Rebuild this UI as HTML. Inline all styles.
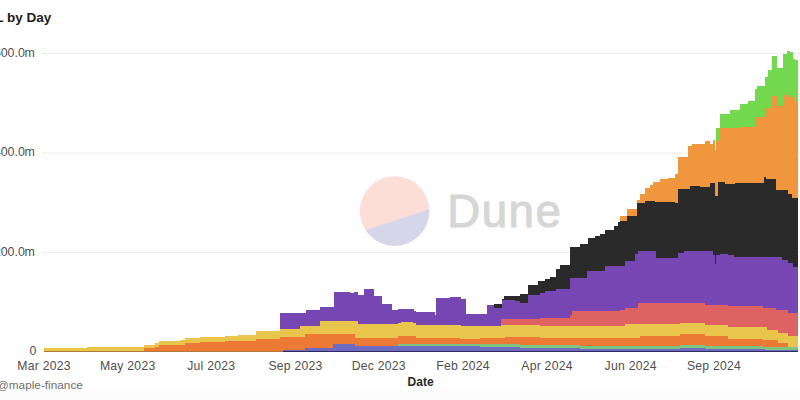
<!DOCTYPE html>
<html><head><meta charset="utf-8">
<style>
html,body{margin:0;padding:0;background:#fff;}
body{width:800px;height:400px;overflow:hidden;position:relative;font-family:"Liberation Sans",sans-serif;}
svg{position:absolute;left:0;top:0;font-family:"Liberation Sans",sans-serif;}
</style></head>
<body>
<svg width="800" height="400" viewBox="0 0 800 400">
<defs><filter id="bl" x="-1%" y="-1%" width="102%" height="102%"><feGaussianBlur stdDeviation="0.5"/></filter><linearGradient id="fg" x1="0" y1="0" x2="0" y2="1"><stop offset="0" stop-color="#fefefe"/><stop offset="1" stop-color="#f9f9f9"/></linearGradient></defs>
<rect x="0" y="387" width="800" height="13" fill="url(#fg)"/>
<g stroke="#ececec" stroke-width="1">
<line x1="42" y1="53.4" x2="800" y2="53.4"/>
<line x1="42" y1="153" x2="800" y2="153"/>
<line x1="42" y1="252.4" x2="800" y2="252.4"/>
</g>
<g shape-rendering="crispEdges" filter="url(#bl)">
<path d="M716.00,352.00L716.00,128.00L720.00,128.00L720.00,114.20L730.00,114.20L730.00,110.00L740.00,110.00L740.00,104.00L748.00,104.00L748.00,100.80L755.00,100.80L755.00,88.50L757.00,88.50L757.00,86.20L765.00,86.20L765.00,77.30L768.00,77.30L768.00,70.00L772.00,70.00L772.00,56.00L777.00,56.00L777.00,67.50L783.00,67.50L783.00,53.50L787.00,53.50L787.00,51.30L790.00,51.30L790.00,52.40L793.00,52.40L793.00,59.00L795.00,59.00L795.00,60.30L798.00,60.30L798.00,352.00Z" fill="#72d94f"/>
<path d="M620.00,352.00L620.00,215.50L627.00,215.50L627.00,208.50L637.00,208.50L637.00,199.80L640.00,199.80L640.00,193.60L645.00,193.60L645.00,188.40L650.00,188.40L650.00,184.90L653.00,184.90L653.00,182.30L660.00,182.30L660.00,178.80L668.00,178.80L668.00,177.90L675.00,177.90L675.00,173.50L678.00,173.50L678.00,156.70L688.00,156.70L688.00,146.20L692.00,146.20L692.00,143.60L705.00,143.60L705.00,141.00L710.00,141.00L710.00,143.60L713.00,143.60L713.00,139.60L715.00,139.60L715.00,150.00L716.00,150.00L716.00,141.00L720.00,141.00L720.00,128.00L740.00,128.00L740.00,127.00L755.00,127.00L755.00,117.00L765.00,117.00L765.00,108.00L772.00,108.00L772.00,96.30L777.00,96.30L777.00,106.40L784.00,106.40L784.00,95.20L790.00,95.20L790.00,97.40L795.00,97.40L795.00,101.50L798.00,101.50L798.00,352.00Z" fill="#f0963e"/>
<path d="M494.00,352.00L494.00,304.00L502.00,304.00L502.00,299.30L504.00,299.30L504.00,296.00L520.00,296.00L520.00,293.50L528.00,293.50L528.00,285.00L538.00,285.00L538.00,281.40L545.00,281.40L545.00,278.80L550.00,278.80L550.00,276.60L556.00,276.60L556.00,268.70L560.00,268.70L560.00,265.00L570.00,265.00L570.00,246.50L580.00,246.50L580.00,244.00L588.00,244.00L588.00,238.30L595.00,238.30L595.00,236.00L600.00,236.00L600.00,233.80L605.00,233.80L605.00,230.40L610.00,230.40L610.00,229.50L614.00,229.50L614.00,226.00L618.00,226.00L618.00,221.70L620.00,221.70L620.00,220.80L627.00,220.80L627.00,215.50L637.00,215.50L637.00,203.30L645.00,203.30L645.00,200.60L655.00,200.60L655.00,202.40L668.00,202.40L668.00,201.50L675.00,201.50L675.00,203.30L678.00,203.30L678.00,188.50L690.00,188.50L690.00,185.50L700.00,185.50L700.00,186.90L710.00,186.90L710.00,183.00L715.00,183.00L715.00,196.00L718.00,196.00L718.00,182.00L725.00,182.00L725.00,184.00L735.00,184.00L735.00,182.80L764.00,182.80L764.00,177.30L766.00,177.30L766.00,179.20L776.00,179.20L776.00,190.30L788.00,190.30L788.00,193.70L792.00,193.70L792.00,198.20L798.00,198.20L798.00,352.00Z" fill="#2b2b2b"/>
<path d="M280.00,352.00L280.00,313.00L306.00,313.00L306.00,310.40L320.00,310.40L320.00,306.60L334.00,306.60L334.00,292.10L350.00,292.10L350.00,292.90L354.00,292.90L354.00,292.10L357.50,292.10L357.50,295.00L364.40,295.00L364.40,289.20L373.80,289.20L373.80,296.00L382.00,296.00L382.00,304.40L392.00,304.40L392.00,310.00L397.50,310.00L397.50,308.80L414.40,308.80L414.40,310.50L416.00,310.50L416.00,311.50L434.80,311.50L434.80,315.00L436.00,315.00L436.00,297.60L449.50,297.60L449.50,297.40L461.00,297.40L461.00,299.00L466.00,299.00L466.00,313.90L487.00,313.90L487.00,305.30L494.00,305.30L494.00,307.70L502.00,307.70L502.00,300.00L515.00,300.00L515.00,301.20L520.00,301.20L520.00,302.70L528.00,302.70L528.00,294.50L540.00,294.50L540.00,293.40L545.00,293.40L545.00,291.20L556.00,291.20L556.00,289.00L570.00,289.00L570.00,278.00L587.00,278.00L587.00,270.50L605.00,270.50L605.00,265.50L625.00,265.50L625.00,261.00L635.00,261.00L635.00,254.00L638.00,254.00L638.00,251.00L656.00,251.00L656.00,258.00L678.00,258.00L678.00,252.50L684.00,252.50L684.00,251.20L713.00,251.20L713.00,255.00L714.50,255.00L714.50,264.00L716.00,264.00L716.00,255.00L720.00,255.00L720.00,253.50L728.00,253.50L728.00,255.00L734.00,255.00L734.00,256.50L740.00,256.50L740.00,256.50L759.50,256.50L759.50,257.30L782.00,257.30L782.00,259.50L788.00,259.50L788.00,263.20L792.50,263.20L792.50,267.00L798.00,267.00L798.00,352.00Z" fill="#7646b2"/>
<path d="M501.00,352.00L501.00,318.60L540.00,318.60L540.00,317.50L570.00,317.50L570.00,315.00L572.00,315.00L572.00,311.00L620.00,311.00L620.00,309.50L625.00,309.50L625.00,307.70L638.00,307.70L638.00,302.80L705.00,302.80L705.00,304.60L728.00,304.60L728.00,306.30L762.50,306.30L762.50,307.80L776.00,307.80L776.00,310.00L788.00,310.00L788.00,313.00L798.00,313.00L798.00,352.00Z" fill="#de6262"/>
<path d="M44.00,352.00L44.00,348.00L140.00,346.90L140.00,346.80L144.00,346.80L144.00,344.90L155.00,344.90L155.00,343.40L159.00,343.40L159.00,341.30L185.00,340.30L185.00,338.40L200.00,338.40L200.00,336.70L225.00,336.70L225.00,335.80L238.00,335.80L238.00,334.70L256.00,334.70L256.00,331.00L280.00,331.00L280.00,329.30L300.00,329.30L300.00,326.00L320.00,326.00L320.00,321.40L357.50,321.40L357.50,323.60L397.50,323.60L397.50,322.50L401.00,322.50L401.00,321.90L412.50,321.90L412.50,323.00L416.00,323.00L416.00,325.00L461.00,325.00L461.00,325.80L501.00,325.80L501.00,325.00L540.00,325.00L540.00,326.20L570.00,326.20L570.00,325.70L625.00,325.70L625.00,324.20L680.00,324.20L680.00,323.30L700.00,323.30L700.00,322.50L705.00,322.50L705.00,325.00L728.00,325.00L728.00,327.40L762.50,327.40L762.50,327.20L767.00,327.20L767.00,329.50L777.50,329.50L777.50,332.50L788.00,332.50L788.00,335.50L798.00,335.50L798.00,352.00Z" fill="#eac54c"/>
<path d="M44.00,352.00L44.00,351.40L144.00,351.40L144.00,347.50L155.00,347.50L155.00,346.50L159.00,346.50L159.00,345.25L185.00,345.25L185.00,343.00L200.00,343.00L200.00,341.50L225.00,341.50L225.00,341.20L256.00,341.20L256.00,338.50L280.00,338.50L280.00,336.90L305.00,336.90L305.00,333.75L355.00,333.75L355.00,337.50L380.00,337.50L380.00,337.75L398.00,337.75L398.00,336.25L416.00,336.25L416.00,338.10L460.00,338.10L460.00,339.00L480.00,339.00L480.00,338.10L505.00,338.10L505.00,336.90L540.00,336.90L540.00,338.10L580.00,338.10L580.00,337.70L640.00,337.70L640.00,336.20L680.00,336.20L680.00,334.20L705.00,334.20L705.00,336.30L728.00,336.30L728.00,339.00L762.50,339.00L762.50,340.00L777.50,340.00L777.50,343.00L788.00,343.00L788.00,346.50L798.00,346.50L798.00,352.00Z" fill="#ec7a36"/>
<path d="M398.00,352.00L398.00,343.80L520.00,343.80L520.00,345.00L580.00,345.00L580.00,346.00L680.00,346.00L680.00,345.30L705.00,345.30L705.00,346.10L762.50,346.10L762.50,346.80L798.00,346.80L798.00,352.00Z" fill="#7cc47f"/>
<path d="M283.00,352.00L283.00,349.70L305.00,349.70L305.00,348.00L333.00,348.00L333.00,344.00L355.00,344.00L355.00,345.60L398.00,345.60L398.00,346.20L480.00,346.20L480.00,346.90L520.00,346.90L520.00,348.10L580.00,348.10L580.00,349.30L680.00,349.30L680.00,348.20L705.00,348.20L705.00,349.30L765.00,349.30L765.00,350.20L798.00,350.20L798.00,352.00Z" fill="#6d6cc0"/>
<path d="M283.00,352.00L283.00,350.70L798.00,350.70L798.00,352.00Z" fill="#2d2b5e"/>
<path d="M44.00,352.00L44.00,351.20L283.00,351.20L283.00,352.00Z" fill="#b07a3a"/>
</g>
<g opacity="0.2">
<clipPath id="lc"><circle cx="394.6" cy="211" r="34.8"/></clipPath>
<g clip-path="url(#lc)">
<rect x="355" y="170" width="80" height="80" fill="#f4603e"/>
<polygon points="350,234.8 440,206.1 440,250 350,250" fill="#3a3a9a"/>
</g>
</g>
<text x="447.3" y="226.6" font-size="45.6" letter-spacing="1.5" fill="#d6d6d6" stroke="#d6d6d6" stroke-width="1.1">Dune</text>
<text x="-22" y="22.3" font-weight="bold" font-size="13.5" fill="#1d1d1d">TVL by Day</text>
<g font-size="12.4" fill="#4f4f4f">
<text x="-6.0 0.7 7.5 14.6 17.9 24.6" y="56.7">600.0m</text>
<text x="-6.0 0.7 7.5 14.6 17.9 24.6" y="156.1">400.0m</text>
<text x="-6.0 0.7 7.5 14.6 17.9 24.6" y="255.5">200.0m</text>
<text x="36.3" y="354.9" text-anchor="end">0</text>
</g>
<g font-size="12.2" letter-spacing="0.25" fill="#4f4f4f" text-anchor="middle">
<text x="44" y="370.2">Mar 2023</text>
<text x="127.7" y="370.2">May 2023</text>
<text x="211.3" y="370.2">Jul 2023</text>
<text x="295.5" y="370.2">Sep 2023</text>
<text x="378.8" y="370.2">Dec 2023</text>
<text x="463" y="370.2">Feb 2024</text>
<text x="547" y="370.2">Apr 2024</text>
<text x="630.7" y="370.2">Jun 2024</text>
<text x="714" y="370.2">Sep 2024</text>
</g>
<text x="420.6" y="386" font-size="12" font-weight="bold" fill="#2a2a2a" text-anchor="middle">Date</text>
<text x="-3.2" y="388.8" font-size="11.8" fill="#6e6e6e">@maple-finance</text>
</svg>
</body></html>
